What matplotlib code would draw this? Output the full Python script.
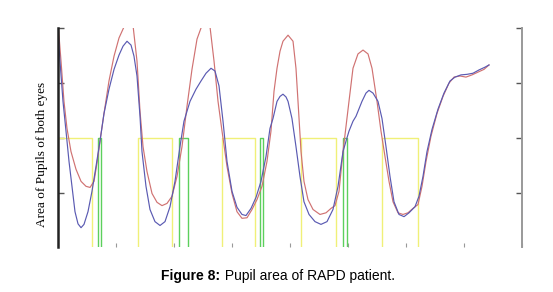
import matplotlib
matplotlib.use("Agg")
import matplotlib.pyplot as plt

# traces (time units on x, area units on y)
red_t = [0.000, 0.052, 0.103, 0.155, 0.224, 0.310, 0.397, 0.483, 0.552, 0.621,
         0.672, 0.724, 0.793, 0.879, 0.966, 1.052, 1.138, 1.224, 1.293, 1.362,
         1.414, 1.466, 1.534, 1.621, 1.707, 1.793, 1.879, 1.966, 2.052, 2.138,
         2.224, 2.310, 2.397, 2.483, 2.552, 2.621, 2.690, 2.759, 2.828, 2.914,
         3.000, 3.086, 3.172, 3.259, 3.345, 3.431, 3.517, 3.603, 3.672, 3.724,
         3.776, 3.828, 3.879, 3.966, 4.052, 4.103, 4.138, 4.190, 4.241, 4.310,
         4.397, 4.517, 4.621, 4.707, 4.776, 4.845, 4.914, 4.966, 5.017, 5.086,
         5.172, 5.259, 5.345, 5.414, 5.500, 5.569, 5.638, 5.707, 5.776, 5.862,
         5.948, 6.034, 6.121, 6.207, 6.276, 6.345, 6.431, 6.534, 6.638, 6.741,
         6.828, 6.931, 7.034, 7.138, 7.241, 7.345, 7.431]
red_area = [4.09, 3.40, 2.67, 2.18, 1.76, 1.44, 1.22, 1.13, 1.11, 1.22,
            1.55, 1.95, 2.45, 3.04, 3.49, 3.82, 4.02, 4.13, 4.05, 3.40,
            2.49, 1.85, 1.40, 1.00, 0.84, 0.78, 0.82, 0.95, 1.31, 1.85,
            2.58, 3.25, 3.80, 4.05, 4.13, 4.02, 3.40, 2.67, 2.13, 1.49,
            1.00, 0.67, 0.55, 0.56, 0.71, 0.89, 1.13, 1.58, 2.13, 2.85,
            3.27, 3.58, 3.76, 3.87, 3.76, 3.27, 2.67, 1.76, 1.22, 0.89,
            0.71, 0.62, 0.65, 0.73, 0.78, 1.04, 1.76, 2.22, 2.67, 3.27,
            3.53, 3.60, 3.53, 3.27, 2.67, 2.13, 1.67, 1.22, 0.85, 0.65,
            0.62, 0.65, 0.73, 0.80, 1.13, 1.58, 2.04, 2.45, 2.76, 3.00,
            3.11, 3.13, 3.11, 3.15, 3.20, 3.25, 3.33]

blue_t = [0.000, 0.034, 0.086, 0.138, 0.190, 0.241, 0.293, 0.345, 0.397, 0.448,
          0.517, 0.586, 0.655, 0.724, 0.793, 0.879, 0.966, 1.052, 1.121, 1.190,
          1.259, 1.310, 1.362, 1.414, 1.448, 1.517, 1.586, 1.672, 1.759, 1.845,
          1.931, 2.017, 2.103, 2.172, 2.276, 2.379, 2.466, 2.552, 2.638, 2.707,
          2.776, 2.845, 2.914, 3.000, 3.086, 3.172, 3.241, 3.328, 3.414, 3.500,
          3.586, 3.655, 3.707, 3.776, 3.828, 3.879, 3.931, 3.966, 4.034, 4.103,
          4.172, 4.241, 4.328, 4.431, 4.534, 4.638, 4.741, 4.828, 4.914, 4.966,
          5.017, 5.086, 5.138, 5.241, 5.310, 5.362, 5.431, 5.517, 5.586, 5.655,
          5.724, 5.793, 5.879, 5.966, 6.052, 6.155, 6.224, 6.293, 6.362, 6.448,
          6.552, 6.655, 6.759, 6.845, 6.948, 7.052, 7.155, 7.259, 7.362, 7.431]
blue_area = [3.98, 3.40, 2.67, 2.13, 1.58, 1.13, 0.67, 0.45, 0.38, 0.44,
             0.67, 1.04, 1.49, 1.95, 2.45, 2.89, 3.25, 3.51, 3.67, 3.76,
             3.69, 3.49, 3.13, 2.40, 1.76, 1.13, 0.71, 0.49, 0.42, 0.49,
             0.76, 1.22, 1.85, 2.31, 2.67, 2.89, 3.04, 3.18, 3.27, 3.22,
             2.95, 2.31, 1.58, 1.04, 0.75, 0.62, 0.60, 0.73, 0.93, 1.22,
             1.67, 2.18, 2.36, 2.67, 2.76, 2.80, 2.75, 2.67, 2.36, 1.85,
             1.31, 0.85, 0.62, 0.49, 0.44, 0.49, 0.71, 1.13, 1.76, 1.95,
             2.13, 2.31, 2.40, 2.67, 2.82, 2.87, 2.82, 2.67, 2.36, 1.85,
             1.31, 0.85, 0.62, 0.58, 0.65, 0.76, 0.95, 1.31, 1.76, 2.16,
             2.53, 2.82, 3.04, 3.11, 3.15, 3.16, 3.18, 3.24, 3.29, 3.33]

# light stimulus (yellow) and switching pulses (green), step signals
light_t = [0.00, 0.59, 1.38, 1.97, 2.83, 3.40, 4.19, 4.79, 5.59, 6.21, 7.43]
light_on = [2, 0, 2, 0, 2, 0, 2, 0, 2, 0, 0]
pulse_t = [0.00, 0.69, 0.74, 2.09, 2.24, 3.48, 3.53, 4.91, 4.98, 7.43]
pulse_on = [0, 2, 0, 2, 0, 2, 0, 2, 0, 0]

fig = plt.figure(figsize=(5.53, 2.92), dpi=100)
ax = fig.add_axes([58 / 553, 1 - 247 / 292, 464 / 553, 219 / 292])

ax.plot(light_t, light_on, drawstyle="steps-post", color="#f0f078", lw=1.0)
ax.plot(pulse_t, pulse_on, drawstyle="steps-post", color="#5cd05c", lw=1.0)
ax.plot(red_t, red_area, color="#d07272", lw=0.85, solid_joinstyle="round")
ax.plot(blue_t, blue_area, color="#5a5ab2", lw=0.85, solid_joinstyle="round")

ax.set_xlim(0, 8)
ax.set_ylim(0.03, 4)
ax.set_xticks(range(0, 9))
ax.set_yticks([1, 2, 3, 4])
ax.set_xticklabels([])
ax.set_yticklabels([])
ax.tick_params(axis="x", direction="in", length=3, width=0.8, color="#999999")
ax.tick_params(axis="y", direction="in", length=4, width=1.0, color="#555555",
               right=True)
ax.spines["top"].set_visible(False)
ax.spines["bottom"].set_visible(False)
ax.spines["left"].set_color("#222222")
ax.spines["left"].set_linewidth(1.8)
ax.spines["right"].set_color("#999999")
ax.spines["right"].set_linewidth(1.4)

fig.text(42 / 553, 1 - 154 / 292, "Area of Pupils of both eyes", rotation=90,
         ha="center", va="center", family="Liberation Serif", fontsize=9.5)

# caption: bold label followed by normal text
fig.canvas.draw()
r = fig.canvas.get_renderer()
t1 = fig.text(0, 1 - 276 / 292, "Figure 8:", fontweight="bold", family="Liberation Sans",
              fontsize=10, va="center")
t2 = fig.text(0, 1 - 276 / 292, " Pupil area of RAPD patient.", family="Liberation Sans",
              fontsize=10, va="center")
w1 = t1.get_window_extent(r).width
w2 = t2.get_window_extent(r).width
x0 = 278 - (w1 + w2) / 2
t1.set_x(x0 / 553)
t2.set_x((x0 + w1) / 553)

fig.savefig("out.png", dpi=100)
